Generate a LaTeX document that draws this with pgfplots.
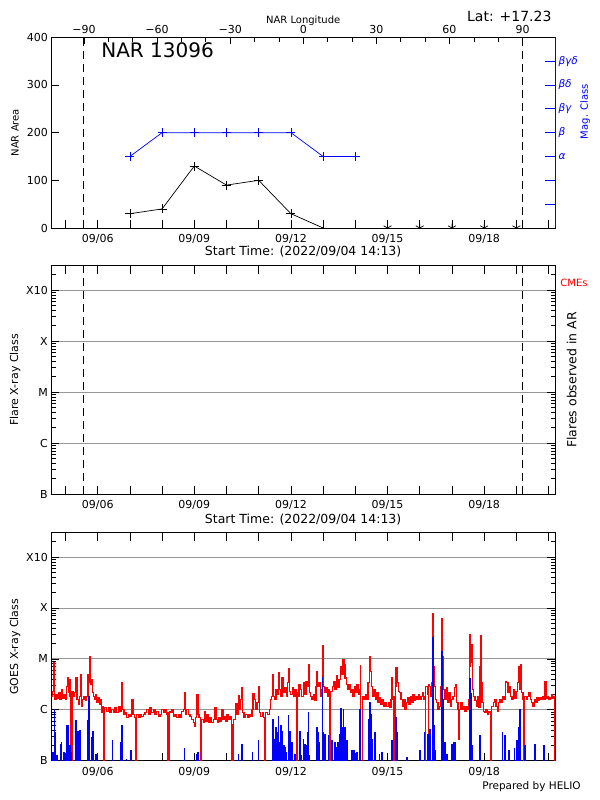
\documentclass[border=0pt]{standalone}
\usepackage{fontspec}
\setmainfont{DejaVu Sans}
\usepackage{pgfplots}
\pgfplotsset{compat=1.18}
\usepackage{pgfplotstable}
\definecolor{gridgray}{RGB}{150,150,150}

\pgfplotstableread{
day flux
0.560 1.85e-6
0.602 2.3e-6
0.633 8.4e-6
0.664 1.6e-6
0.705 2.0e-6
0.747 1.7e-6
0.788 2.15e-6
0.830 1.6e-6
0.871 2.5e-6
0.912 1.7e-6
0.954 2.0e-6
0.995 1.6e-6
1.037 2.9e-6
1.057 4.2e-6
1.088 2.15e-6
1.109 3.9e-6
1.140 1.85e-6
1.161 2.15e-6
1.171 1e-8
1.202 2.3e-6
1.244 1.85e-6
1.285 2.15e-6
1.326 4.2e-6
1.357 1.6e-6
1.399 1.27e-6
1.430 1.85e-6
1.461 4.9e-6
1.492 1.18e-6
1.533 1.6e-6
1.575 1.85e-6
1.616 1.5e-6
1.658 1.85e-6
1.699 4.9e-6
1.720 3.4e-6
1.740 1.13e-5
1.772 3.1e-6
1.803 3.9e-6
1.834 2.15e-6
1.865 1.85e-6
1.896 1.6e-6
1.927 2.0e-6
1.968 1.37e-6
2.010 1.7e-6
2.051 1.27e-6
2.092 1.6e-6
2.123 8.7e-7
2.155 1.18e-6
2.175 1e-8
2.217 1.1e-6
2.279 9.4e-7
2.330 1.1e-6
2.382 8.7e-7
2.434 1.0e-6
2.486 9.0e-7
2.538 1.1e-6
2.589 8.7e-7
2.641 1.18e-6
2.693 9.4e-7
2.734 1.18e-6
2.755 3.4e-6
2.776 1.0e-6
2.817 8.1e-7
2.858 8.7e-7
2.900 7.0e-7
2.952 8.1e-7
3.003 7.5e-7
3.045 1.0e-6
3.065 1.6e-6
3.097 8.1e-7
3.138 7.0e-7
3.169 1e-8
3.210 8.1e-7
3.262 7.0e-7
3.314 8.1e-7
3.366 7.3e-7
3.418 8.1e-7
3.469 8.7e-7
3.521 1.0e-6
3.573 8.1e-7
3.625 1.1e-6
3.676 8.7e-7
3.728 1.0e-6
3.780 8.1e-7
3.832 9.4e-7
3.883 7.5e-7
3.935 8.1e-7
3.987 1.0e-6
4.039 8.7e-7
4.090 1.0e-6
4.142 8.1e-7
4.180 8.7e-7
4.186 1e-8
4.192 8.7e-7
4.222 1e-8
4.228 9.4e-7
4.266 8.7e-7
4.308 1.0e-6
4.349 7.5e-7
4.401 8.1e-7
4.452 7.0e-7
4.504 8.1e-7
4.556 7.0e-7
4.608 9.4e-7
4.659 1.0e-6
4.690 2.2e-6
4.721 8.1e-7
4.763 1.0e-6
4.815 8.1e-7
4.866 7.5e-7
4.918 6.5e-7
4.970 5.6e-7
5.001 4.8e-7
5.032 7.0e-7
5.063 1.85e-6
5.084 2.0e-6
5.115 8.1e-7
5.146 7.0e-7
5.187 6.0e-7
5.198 1e-8
5.229 6.5e-7
5.280 5.6e-7
5.311 9.4e-7
5.353 6.0e-7
5.394 8.1e-7
5.436 5.6e-7
5.487 7.0e-7
5.539 5.6e-7
5.591 6.5e-7
5.643 1.1e-6
5.674 6.5e-7
5.715 5.6e-7
5.757 7.0e-7
5.798 6.0e-7
5.850 1.0e-6
5.891 6.5e-7
5.933 7.5e-7
5.974 6.0e-7
6.015 8.1e-7
6.057 6.5e-7
6.109 7.5e-7
6.150 5.2e-7
6.171 1e-8
6.223 6.5e-7
6.274 1.18e-6
6.295 1.3e-6
6.326 8.1e-7
6.367 1.9e-6
6.398 1.0e-6
6.440 1.6e-6
6.471 2.7e-6
6.502 8.7e-7
6.543 7.0e-7
6.595 8.1e-7
6.647 7.0e-7
6.699 8.1e-7
6.750 7.5e-7
6.792 1.0e-6
6.823 2.05e-6
6.864 1.6e-6
6.906 1.0e-6
6.947 1.37e-6
6.989 2.9e-6
7.020 8.7e-7
7.061 7.5e-7
7.113 8.7e-7
7.154 7.0e-7
7.175 1e-8
7.216 8.7e-7
7.278 8.1e-7
7.330 1.0e-6
7.372 1.6e-6
7.403 1.85e-6
7.423 4.9e-6
7.454 1.85e-6
7.496 1.6e-6
7.537 2.5e-6
7.579 2.0e-6
7.610 5.3e-6
7.641 2.5e-6
7.682 1.85e-6
7.723 4.2e-6
7.765 2.15e-6
7.817 2.7e-6
7.858 1.85e-6
7.899 3.4e-6
7.920 6.4e-6
7.951 2.3e-6
7.993 2.0e-6
8.044 2.7e-6
8.086 1.85e-6
8.127 2.5e-6
8.169 2.15e-6
8.186 1e-8
8.200 1.85e-6
8.251 3.1e-6
8.293 2.5e-6
8.334 1.85e-6
8.386 3.4e-6
8.428 2.0e-6
8.469 3.65e-6
8.510 2.9e-6
8.541 7.7e-6
8.572 2.15e-6
8.614 1.85e-6
8.655 1.6e-6
8.697 2.0e-6
8.738 1.5e-6
8.780 2.9e-6
8.800 5.7e-6
8.831 2.9e-6
8.873 3.4e-6
8.914 1.85e-6
8.945 2.5e-6
8.976 1.8e-5
9.007 2.9e-6
9.049 2.15e-6
9.090 2.7e-6
9.131 1.85e-6
9.173 2.5e-6
9.194 1e-8
9.235 2.3e-6
9.287 2.9e-6
9.328 3.65e-6
9.369 2.5e-6
9.411 4.6e-6
9.452 2.7e-6
9.494 3.9e-6
9.535 7.2e-6
9.577 4.9e-6
9.618 9.7e-6
9.649 7.7e-6
9.680 4.2e-6
9.722 3.1e-6
9.763 2.5e-6
9.804 3.1e-6
9.846 2.15e-6
9.887 2.5e-6
9.929 1.85e-6
9.970 2.9e-6
10.011 2.15e-6
10.053 3.1e-6
10.094 2.0e-6
10.136 2.5e-6
10.156 7.4e-6
10.167 1e-8
10.218 1.85e-6
10.270 1.6e-6
10.311 2.0e-6
10.353 1.6e-6
10.394 3.4e-6
10.436 1.13e-5
10.467 5.7e-6
10.498 2.9e-6
10.539 1.85e-6
10.581 2.5e-6
10.622 1.6e-6
10.663 2.15e-6
10.705 1.37e-6
10.746 1.7e-6
10.788 1.27e-6
10.829 1.6e-6
10.871 1.18e-6
10.922 1.37e-6
10.974 1.18e-6
11.026 1.37e-6
11.078 1.1e-6
11.109 1.6e-6
11.129 4.2e-6
11.160 1.6e-6
11.176 1e-8
11.186 1.85e-6
11.228 1e-8
11.238 2.9e-6
11.264 6.7e-6
11.295 3.4e-6
11.336 2.3e-6
11.378 2.15e-6
11.419 1.6e-6
11.461 1.18e-6
11.502 1.6e-6
11.543 1.0e-6
11.585 1.37e-6
11.626 1.7e-6
11.668 1.27e-6
11.709 1.85e-6
11.750 1.37e-6
11.792 2.0e-6
11.833 1.5e-6
11.875 1.85e-6
11.916 1.6e-6
11.957 2.0e-6
11.999 1.6e-6
12.040 1.85e-6
12.082 2.15e-6
12.123 1.6e-6
12.154 1.85e-6
12.170 1e-8
12.186 2.9e-6
12.237 2.0e-6
12.262 1e-8
12.275 3.1e-6
12.310 2.9e-6
12.341 1.85e-6
12.372 3.4e-6
12.392 2.5e-6
12.413 7.9e-5
12.434 7.2e-6
12.455 2.9e-6
12.485 1.6e-6
12.527 1.37e-6
12.568 1.0e-6
12.610 1.18e-6
12.651 2.9e-6
12.682 6.3e-5
12.713 1.13e-5
12.744 2.5e-6
12.786 1.6e-6
12.827 2.7e-6
12.868 1.37e-6
12.910 2.15e-6
12.951 1.18e-6
12.993 1.6e-6
13.034 1.85e-6
13.075 2.7e-6
13.107 3.1e-6
13.148 1.37e-6
13.189 1.0e-6
13.205 2.6e-7
13.226 1.0e-6
13.272 1.37e-6
13.314 1.0e-6
13.355 1.18e-6
13.396 9.4e-7
13.438 1.18e-6
13.479 1.0e-6
13.521 1.6e-6
13.552 7.2e-6
13.562 3.0e-5
13.583 8.4e-6
13.604 1.9e-5
13.635 2.5e-6
13.676 1.85e-6
13.717 1.5e-6
13.759 1.18e-6
13.800 1.85e-6
13.841 1.1e-6
13.873 7.2e-6
13.883 2.8e-5
13.904 3.4e-6
13.935 1.37e-6
13.976 9.4e-7
14.018 8.7e-7
14.059 1.0e-6
14.100 8.1e-7
14.142 9.4e-7
14.183 8.7e-7
14.204 1e-8
14.235 1.18e-6
14.287 1.37e-6
14.328 1.6e-6
14.369 1.18e-6
14.411 9.4e-7
14.452 1.37e-6
14.494 1.6e-6
14.535 1.37e-6
14.576 1.85e-6
14.618 1.6e-6
14.659 3.65e-6
14.701 3.4e-6
14.742 2.15e-6
14.784 2.9e-6
14.825 1.85e-6
14.866 1.6e-6
14.908 2.5e-6
14.949 1.7e-6
14.991 2.3e-6
15.032 3.4e-6
15.063 7.2e-6
15.094 2.5e-6
15.136 7.7e-6
15.167 2.15e-6
15.208 1.6e-6
15.229 1e-8
15.260 1.85e-6
15.312 1.6e-6
15.353 1.85e-6
15.394 2.15e-6
15.436 1.6e-6
15.477 1.37e-6
15.519 1.18e-6
15.560 1.6e-6
15.601 1.37e-6
15.643 1.7e-6
15.684 1.5e-6
15.726 1.7e-6
15.767 1.6e-6
15.808 1.85e-6
15.850 1.6e-6
15.891 3.65e-6
15.922 1.7e-6
15.964 1.85e-6
16.005 1.6e-6
16.046 1.7e-6
16.088 2.0e-6
16.129 1.7e-6
16.171 1.85e-6
16.191 1e-8
16.250 1e-8
}\goeslong

\pgfplotstableread{
day flux
0.560 1e-8
0.602 1.43e-7
0.612 1e-8
0.654 1.0e-6
0.664 3.55e-7
0.684 1e-8
0.726 1.24e-7
0.736 1e-8
0.840 2.1e-7
0.850 1e-8
0.871 2.25e-7
0.881 1e-8
0.954 1.43e-7
0.964 1e-8
1.047 4.9e-7
1.095 1e-8
1.140 1.94e-7
1.150 1e-8
1.181 1.43e-7
1.191 1e-8
1.311 6.0e-7
1.350 1e-8
1.378 3.8e-7
1.388 1e-8
1.451 3.9e-7
1.461 1e-8
1.699 6.0e-7
1.709 1e-8
1.735 1.85e-6
1.748 1e-8
1.803 2.8e-7
1.813 1e-8
1.844 3.8e-7
1.854 1e-8
1.947 1.33e-7
1.957 1e-8
2.455 2.5e-7
2.465 1e-8
2.724 2.25e-7
2.734 1e-8
2.745 4.9e-7
2.760 1e-8
2.890 1.05e-7
2.900 1e-8
3.034 1.55e-7
3.044 1e-8
4.691 1.75e-7
4.701 1e-8
5.074 1.33e-7
5.084 1e-8
5.105 1.43e-7
5.115 1e-8
6.368 1.3e-7
6.378 1e-8
6.471 2.1e-7
6.481 1e-8
6.803 1.43e-7
6.813 1e-8
6.989 2.5e-7
6.999 1e-8
7.430 6.5e-7
7.445 1e-8
7.465 2.6e-7
7.475 1e-8
7.500 1.94e-7
7.510 1e-8
7.538 4.4e-7
7.548 1e-8
7.569 3.55e-7
7.579 1e-8
7.605 7.3e-7
7.618 1e-8
7.651 2.25e-7
7.661 1e-8
7.693 4.8e-7
7.703 1e-8
7.734 3.8e-7
7.744 1e-8
7.776 1.94e-7
7.786 1e-8
7.817 1.8e-7
7.827 1e-8
7.858 1.43e-7
7.868 1e-8
7.915 7.7e-7
7.928 1e-8
7.972 3.8e-7
7.982 1e-8
8.024 2.25e-7
8.034 1e-8
8.128 1.33e-7
8.138 1e-8
8.273 3.8e-7
8.283 1e-8
8.324 1.24e-7
8.334 1e-8
8.386 2.6e-7
8.396 1e-8
8.428 2.1e-7
8.438 1e-8
8.469 1.94e-7
8.479 1e-8
8.511 3.55e-7
8.521 1e-8
8.542 8.7e-7
8.552 1e-8
8.573 1.24e-7
8.583 1e-8
8.801 4.4e-7
8.811 1e-8
8.842 3.55e-7
8.852 1e-8
8.883 2.25e-7
8.893 1e-8
8.972 4.2e-6
8.985 1e-8
9.007 3.55e-7
9.017 1e-8
9.049 3.3e-7
9.059 1e-8
9.163 3.05e-7
9.173 1e-8
9.266 2.43e-7
9.276 1e-8
9.370 2.25e-7
9.380 1e-8
9.421 1.8e-7
9.431 1e-8
9.463 2.25e-7
9.473 1e-8
9.504 3.3e-7
9.514 1e-8
9.546 1.06e-6
9.556 1e-8
9.587 4.4e-7
9.597 1e-8
9.628 1.0e-6
9.638 1e-8
9.670 4.4e-7
9.680 1e-8
9.732 2.43e-7
9.742 1e-8
9.898 1.55e-7
9.908 1e-8
9.960 1.55e-7
9.970 1e-8
10.043 1.43e-7
10.053 1e-8
10.146 1.0e-6
10.156 1e-8
10.400 6.5e-7
10.410 1e-8
10.441 1.37e-6
10.451 1e-8
10.488 8.1e-7
10.498 1e-8
10.529 2.6e-7
10.539 1e-8
10.612 3.55e-7
10.622 1e-8
10.747 1.33e-7
10.757 1e-8
10.819 1.43e-7
10.829 1e-8
11.140 2.5e-7
11.150 1e-8
11.264 7.0e-7
11.274 1e-8
11.305 3.55e-7
11.315 1e-8
11.595 1.15e-7
11.605 1e-8
12.009 1.55e-7
12.019 1e-8
12.144 3.55e-7
12.154 1e-8
12.250 3.3e-7
12.260 1e-8
12.320 4.1e-7
12.330 1e-8
12.408 2.6e-5
12.421 1e-8
12.455 4.9e-7
12.465 1e-8
12.486 1.55e-7
12.496 1e-8
12.677 1.4e-5
12.690 1.6e-6
12.718 1e-8
12.786 2.25e-7
12.796 1e-8
12.848 1.33e-7
12.858 1e-8
12.993 2.1e-7
13.003 1e-8
13.065 2.25e-7
13.075 1e-8
13.096 2.25e-7
13.106 1e-8
13.547 4.05e-6
13.560 1e-8
13.593 2.1e-6
13.603 1.94e-7
13.624 1e-8
13.873 3.05e-7
13.883 1e-8
14.566 3.55e-7
14.576 1e-8
14.649 3.05e-7
14.659 1e-8
14.773 1.55e-7
14.783 1e-8
14.939 1.75e-7
14.949 1e-8
15.011 2.5e-7
15.021 1e-8
15.063 4.4e-7
15.073 1e-8
15.110 1.0e-6
15.120 1e-8
15.270 2.0e-7
15.280 1e-8
15.581 2.1e-7
15.591 1e-8
15.860 2.0e-7
15.870 1e-8
16.250 1e-8
}\goesshort

\pgfplotsset{
  panel/.style={
    scale only axis, width=503.7bp,
    xmin=0.56, xmax=16.2,
    /pgf/number format/assume math mode=true,
    font=\fontsize{11bp}{13bp}\selectfont,
    tick label style={font=\fontsize{11bp}{13bp}\selectfont},
    axis line style={line width=0.8bp},
    tick style={black, line width=0.7bp},
    tick align=inside,
    major tick length=8bp, minor tick length=4.5bp,
    xtick={1,...,16},
    xticklabels={{},09/06,{},{},09/09,{},{},09/12,{},{},09/15,{},{},09/18,{},{}},
    xticklabel style={yshift=-3bp},
    ylabel style={at={(axis description cs:-0.072,0.5)}, anchor=center,
      font=\fontsize{11bp}{13bp}\selectfont},
  },
  logpanel/.style={
    panel, height=228.3bp, ymin=1e-7, ymax=3e-3,
    ytick={1e-7,1e-6,1e-5,1e-4,1e-3},
    yticklabels={B,C,M,X,X10},
    minor ytick={2e-7,3e-7,4e-7,5e-7,6e-7,7e-7,8e-7,9e-7,
                 2e-6,3e-6,4e-6,5e-6,6e-6,7e-6,8e-6,9e-6,
                 2e-5,3e-5,4e-5,5e-5,6e-5,7e-5,8e-5,9e-5,
                 2e-4,3e-4,4e-4,5e-4,6e-4,7e-4,8e-4,9e-4,2e-3},
    ymajorgrids, major grid style={gridgray, line width=0.8bp},
  },
}

\begin{document}
\begin{tikzpicture}
\useasboundingbox (0,0) rectangle (600bp,-800bp);

% ---------- top panel: NAR area ----------
\begin{axis}[panel, at={(51.3bp,-228bp)}, anchor=south west, height=190.7bp,
  ymin=0, ymax=400, ytick={0,100,200,300,400},
  xtick pos=left, ytick pos=left,
  ylabel={NAR Area}, ylabel style={font=\fontsize{10bp}{12bp}\selectfont},
  xlabel={Start Time: (2022/09/04 14:13)},
  xlabel style={at={(axis description cs:0.5,-0.126)}, anchor=center,
    font=\fontsize{12.5bp}{14bp}\selectfont},
  clip marker paths=true]
\addplot[black, line width=0.7bp, mark=+, mark size=4.5bp] coordinates
  {(3,30) (4,40) (5,130) (6,90) (7,100) (8,30) (9,0)};
\addplot[black, only marks, line width=0.7bp, mark=asterisk, mark size=4.5bp] coordinates
  {(11,0) (12,0) (13,0) (14,0) (15,0)};
\addplot[black, line width=1bp, dash pattern=on 8bp off 5bp] coordinates {(1.575,0) (1.575,400)};
\addplot[black, line width=1bp, dash pattern=on 8bp off 5bp] coordinates {(15.19,0) (15.19,400)};
\node[font=\fontsize{20bp}{24bp}\selectfont] at (rel axis cs:0.211,0.931) {NAR 13096};
\end{axis}

% magnetic class (right, blue)
\begin{axis}[scale only axis, width=503.7bp, height=190.7bp,
  at={(51.3bp,-228bp)}, anchor=south west,
  xmin=0.56, xmax=16.2, ymin=0, ymax=400,
  axis x line=none, axis y line*=right, tick align=inside,
  ytick={50,100,150,200,250,300,350},
  yticklabels={{},{},\textit{α},\textit{β},\textit{βγ},\textit{βδ},\textit{βγδ}},
  axis line style={blue, line width=0.8bp},
  ytick style={blue, line width=0.7bp}, major tick length=10bp,
  yticklabel style={blue, font=\fontsize{10.5bp}{12bp}\selectfont},
  ylabel={Mag. Class},
  ylabel style={blue, at={(axis description cs:1.0596,0.61)}, anchor=center,
    font=\fontsize{10bp}{12bp}\selectfont}]
\addplot[blue, line width=0.7bp, mark=+, mark size=4.5bp] coordinates
  {(3,150) (4,200) (5,200) (6,200) (7,200) (8,200) (9,150) (10,150)};
\end{axis}

% longitude (top)
\begin{axis}[scale only axis, width=503.7bp, height=190.7bp,
  at={(51.3bp,-228bp)}, anchor=south west,
  xmin=-103.4, xmax=103.3, ymin=0, ymax=1,
  axis y line=none, axis x line*=top, tick align=inside,
  axis line style={line width=0.8bp},
  tick style={black, line width=0.7bp},
  major tick length=7bp, minor tick length=4.5bp,
  xtick={-90,-60,-30,0,30,60,90},
  xticklabels={−90,−60,−30,0,30,60,90},
  minor x tick num=2,
  xticklabel style={font=\fontsize{11bp}{13bp}\selectfont},
  xlabel={NAR Longitude},
  xlabel style={at={(axis description cs:0.5,1.085)}, anchor=center,
    font=\fontsize{10bp}{12bp}\selectfont}]
\end{axis}

% ---------- middle panel: flares ----------
\begin{axis}[logpanel, ymode=log, at={(51.3bp,-494bp)}, anchor=south west,
  ylabel={Flare X-ray Class},
  xlabel={Start Time: (2022/09/04 14:13)},
  xlabel style={at={(axis description cs:0.5,-0.112)}, anchor=center,
    font=\fontsize{12.5bp}{14bp}\selectfont}]
\addplot[black, line width=1bp, dash pattern=on 8bp off 5bp] coordinates {(1.575,1e-7) (1.575,3e-3)};
\addplot[black, line width=1bp, dash pattern=on 8bp off 5bp] coordinates {(15.19,1e-7) (15.19,3e-3)};
\end{axis}

% ---------- bottom panel: GOES ----------
\begin{axis}[logpanel, ymode=log, at={(51.3bp,-760.7bp)}, anchor=south west, height=228bp,
  ylabel={GOES X-ray Class}]
\addplot[const plot, red, line width=1.2bp] table[x=day, y=flux] {\goeslong};
\addplot[const plot, blue, line width=1.3bp] table[x=day, y=flux] {\goesshort};
\end{axis}

\node[anchor=east, font=\fontsize{14bp}{16bp}\selectfont] at (555bp,-16bp) {Lat: +17.23};
\node[rotate=90, font=\fontsize{12.5bp}{14bp}\selectfont] at (571.7bp,-380bp) {Flares observed in AR};
\node[red, font=\fontsize{10bp}{12bp}\selectfont] at (574bp,-283bp) {CMEs};
\node[font=\fontsize{10.5bp}{12bp}\selectfont] at (531.5bp,-787bp) {Prepared by HELIO};
\end{tikzpicture}
\end{document}
